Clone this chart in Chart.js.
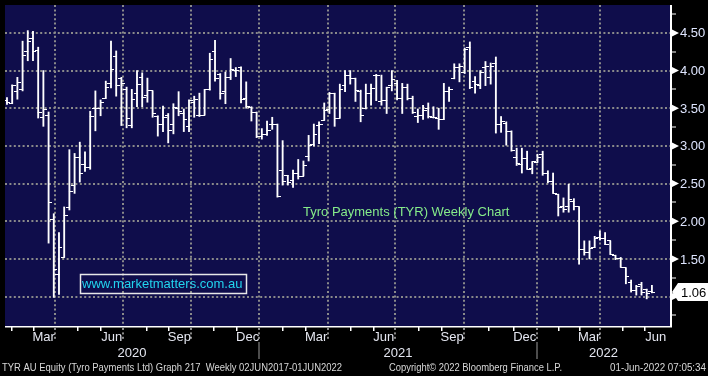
<!DOCTYPE html>
<html>
<head>
<meta charset="utf-8">
<script src="https://cdn.jsdelivr.net/npm/chart.js@4.4.0/dist/chart.umd.min.js"></script>
<style>
  html, body { margin: 0; padding: 0; background: #000; }
</style>
</head>
<body>
<canvas id="tyr" width="708" height="376"></canvas>
<script>
// weekly OHLC, Tyro Payments (TYR), late Dec 2019 -> end May 2022
const opens = [3.60, 3.56, 3.72, 3.75, 4.25, 4.43, 4.27, 3.38, 3.41, 2.03,
  1.29, 1.52, 2.18, 2.47, 2.85, 2.75, 2.71, 3.49, 3.49, 3.63,
  3.83, 4.18, 3.89, 3.75, 3.27, 3.70, 3.91, 3.67, 3.73, 3.39,
  3.28, 3.41, 3.29, 3.50, 3.43, 3.26, 3.58, 3.40, 3.41, 3.75,
  4.25, 3.95, 3.72, 3.91, 4.00, 4.04, 3.63, 3.51, 3.45, 3.12,
  3.15, 3.28, 3.29, 2.68, 2.61, 2.54, 2.64, 2.60, 2.86, 3.02,
  3.27, 3.34, 3.48, 3.69, 3.37, 3.80, 3.94, 3.90, 3.72, 3.50,
  3.69, 3.94, 3.59, 3.60, 3.80, 3.83, 3.63, 3.77, 3.63, 3.39,
  3.40, 3.50, 3.38, 3.37, 3.35, 3.72, 3.89, 4.04, 3.98, 4.31,
  3.85, 3.80, 4.04, 3.91, 4.10, 3.28, 3.30, 3.19, 2.85, 2.75,
  2.83, 2.70, 2.78, 2.89, 2.63, 2.53, 2.35, 2.20, 2.19, 2.26,
  2.19, 1.63, 1.59, 1.65, 1.79, 1.77, 1.74, 1.55, 1.50, 1.38,
  1.19, 1.08, 1.16, 1.09, 1.07];
const highs = [3.64, 3.81, 3.91, 4.39, 4.53, 4.52, 4.31, 4.00, 3.45, 2.10,
  1.85, 2.19, 2.95, 2.90, 3.05, 2.92, 3.46, 3.73, 3.61, 3.86,
  4.39, 4.26, 3.91, 3.78, 3.75, 4.00, 3.97, 3.90, 3.73, 3.40,
  3.53, 3.43, 3.56, 3.72, 3.49, 3.61, 3.66, 3.70, 3.75, 4.23,
  4.40, 3.96, 3.98, 4.16, 4.04, 4.05, 3.85, 3.52, 3.45, 3.23,
  3.33, 3.38, 3.29, 3.07, 2.61, 2.68, 2.82, 2.80, 3.14, 3.29,
  3.32, 3.57, 3.71, 3.70, 3.82, 4.00, 4.00, 3.90, 3.74, 3.82,
  3.82, 3.95, 3.94, 3.78, 4.00, 3.87, 3.83, 3.82, 3.66, 3.49,
  3.54, 3.57, 3.52, 3.50, 3.83, 3.78, 4.09, 4.09, 4.30, 4.38,
  3.92, 4.00, 4.12, 4.10, 4.18, 3.39, 3.32, 3.20, 2.97, 2.97,
  2.93, 2.79, 2.89, 2.93, 2.67, 2.64, 2.36, 2.31, 2.49, 2.30,
  2.19, 1.74, 1.74, 1.80, 1.87, 1.85, 1.74, 1.55, 1.52, 1.38,
  1.22, 1.15, 1.19, 1.10, 1.15];
const lows = [3.55, 3.56, 3.62, 3.73, 4.13, 4.13, 3.37, 3.26, 1.71, 0.99,
  1.03, 1.52, 2.15, 2.37, 2.52, 2.66, 2.69, 3.20, 3.40, 3.63,
  3.77, 3.66, 3.27, 3.24, 3.24, 3.52, 3.52, 3.58, 3.38, 3.13,
  3.19, 3.04, 3.16, 3.40, 3.19, 3.19, 3.38, 3.39, 3.41, 3.74,
  3.86, 3.62, 3.56, 3.88, 3.92, 3.57, 3.50, 3.33, 3.11, 3.09,
  3.14, 3.22, 2.32, 2.48, 2.48, 2.45, 2.56, 2.60, 2.80, 3.00,
  3.03, 3.34, 3.43, 3.26, 3.37, 3.72, 3.82, 3.59, 3.32, 3.49,
  3.54, 3.60, 3.54, 3.43, 3.73, 3.61, 3.43, 3.61, 3.43, 3.31,
  3.35, 3.37, 3.37, 3.22, 3.35, 3.59, 3.89, 3.85, 3.96, 3.76,
  3.70, 3.76, 3.80, 3.82, 3.17, 3.18, 3.01, 2.93, 2.74, 2.64,
  2.69, 2.63, 2.78, 2.61, 2.51, 2.37, 2.07, 2.12, 2.12, 2.15,
  1.43, 1.55, 1.50, 1.65, 1.75, 1.69, 1.56, 1.49, 1.39, 1.17,
  1.06, 1.02, 1.02, 0.97, 1.05];
const closes = [3.58, 3.80, 3.84, 4.20, 4.38, 4.25, 3.45, 3.48, 2.25, 1.36,
  1.65, 2.08, 2.40, 2.85, 2.64, 2.71, 3.39, 3.49, 3.57, 3.78,
  4.01, 3.80, 3.83, 3.36, 3.62, 3.81, 3.64, 3.73, 3.43, 3.29,
  3.38, 3.20, 3.51, 3.46, 3.35, 3.60, 3.62, 3.40, 3.75, 4.15,
  3.90, 3.70, 3.91, 4.01, 4.00, 3.61, 3.52, 3.45, 3.12, 3.15,
  3.20, 3.28, 2.33, 2.53, 2.52, 2.64, 2.60, 2.74, 3.00, 3.15,
  3.29, 3.47, 3.69, 3.37, 3.75, 3.94, 3.90, 3.73, 3.41, 3.70,
  3.76, 3.94, 3.60, 3.78, 3.88, 3.63, 3.77, 3.63, 3.44, 3.40,
  3.47, 3.39, 3.38, 3.35, 3.72, 3.75, 4.04, 4.06, 4.28, 3.78,
  3.82, 3.98, 4.06, 4.06, 3.29, 3.33, 3.19, 2.94, 2.76, 2.83,
  2.69, 2.79, 2.84, 2.63, 2.53, 2.37, 2.18, 2.15, 2.29, 2.19,
  1.63, 1.59, 1.64, 1.77, 1.77, 1.69, 1.56, 1.50, 1.39, 1.27,
  1.08, 1.14, 1.05, 1.04, 1.06];

// axis ticks
const priceTicks = [1.00, 1.50, 2.00, 2.50, 3.00, 3.50, 4.00, 4.50];
// quarter boundaries in week index (first one sits off the left edge)
const quarterBreaks = [-3.5, 9.16, 22.33, 35.31, 48.47, 61.64, 74.62, 87.79, 101.91, 113.93, 126.9];
const quarterLabels = ['Mar', 'Jun', 'Sep', 'Dec', 'Mar', 'Jun', 'Sep', 'Dec', 'Mar', 'Jun'];
const yearBreaks = [48.47, 101.91];
const yearLabels = ['2020', '2021', '2022'];

const xMin = -0.38, xMax = 127.48;
const yMin = 0.61, yMax = 4.87;

const weeks = opens.map((_, i) => i);
const rangeData = weeks.map(i => ({ x: i, y: [lows[i], highs[i]] }));
const openData = weeks.map(i => ({ x: i, y: opens[i] }));
const closeData = weeks.map(i => ({ x: i, y: closes[i] }));

function tickImage(left) {
  const c = document.createElement('canvas');
  c.width = 7; c.height = 1;
  const g = c.getContext('2d');
  g.fillStyle = '#fff';
  if (left) g.fillRect(0, 0, 4, 1); else g.fillRect(3, 0, 4, 1);
  return c;
}

const FONT = '"Liberation Sans", Arial, sans-serif';

const decor = {
  id: 'decor',
  beforeDraw(chart) {
    const { ctx, chartArea: a } = chart;
    ctx.save();
    ctx.fillStyle = '#000';
    ctx.fillRect(0, 0, chart.width, chart.height);
    ctx.fillStyle = '#0f0d4b';
    ctx.fillRect(a.left, a.top, a.right - a.left, a.bottom - a.top);
    ctx.restore();
  },
  afterDraw(chart) {
    const { ctx, chartArea: a } = chart;
    const xs = chart.scales.x, ys = chart.scales.y;
    ctx.save();

    // watermark + title
    ctx.strokeStyle = '#e8e8e8';
    ctx.lineWidth = 1.5;
    ctx.strokeRect(80.5, 274.5, 166, 19);
    ctx.font = '13px ' + FONT;
    ctx.textBaseline = 'middle';
    ctx.fillStyle = '#22d4ee';
    ctx.fillText('www.marketmatters.com.au', 82, 284.5, 162);
    ctx.fillStyle = '#86ec8a';
    ctx.fillText('Tyro Payments (TYR) Weekly Chart', 303, 212, 210);

    // axis lines
    ctx.fillStyle = '#fff';
    ctx.fillRect(a.right, a.top, 2, a.bottom - a.top + 1);
    ctx.fillRect(a.left, a.bottom, a.right - a.left + 2, 1.5);

    // right axis: minor ticks, arrows and labels
    for (let v = 0.75; v < yMax; v += 0.5) {
      const y = ys.getPixelForValue(v);
      ctx.fillRect(a.right + 2, Math.round(y) - 0.5, 4, 1);
    }
    ctx.font = '13px ' + FONT;
    priceTicks.forEach(v => {
      const y = ys.getPixelForValue(v);
      ctx.fillStyle = '#fff';
      ctx.beginPath();
      ctx.moveTo(a.right + 2, y - 3.5);
      ctx.lineTo(a.right + 9, y);
      ctx.lineTo(a.right + 2, y + 3.5);
      ctx.closePath();
      ctx.fill();
      ctx.fillStyle = '#dfe6ff';
      ctx.fillText(v.toFixed(2), a.right + 10, y + 1);
    });

    // last price flag
    const last = closes[closes.length - 1];
    const ly = ys.getPixelForValue(last);
    ctx.fillStyle = '#fff';
    ctx.beginPath();
    ctx.moveTo(a.right + 2, ly);
    ctx.lineTo(a.right + 8, ly - 9);
    ctx.lineTo(chart.width, ly - 9);
    ctx.lineTo(chart.width, ly + 9);
    ctx.lineTo(a.right + 8, ly + 9);
    ctx.closePath();
    ctx.fill();
    ctx.fillStyle = '#000';
    ctx.fillText(last.toFixed(2), a.right + 11, ly + 1);

    // bottom axis: month ticks, quarter marks, labels
    const bottom = a.bottom;
    ctx.textAlign = 'center';
    for (let k = 1; k < quarterBreaks.length; k++) {
      const q0 = quarterBreaks[k - 1], q1 = quarterBreaks[k];
      const step = (q1 - q0) / 3;
      ctx.fillStyle = '#fff';
      [q0 + step, q0 + 2 * step].forEach(m => {
        if (m > xMin && m < xMax) {
          const x = Math.round(xs.getPixelForValue(m));
          ctx.fillRect(x, bottom + 1, 1.5, 4);
        }
      });
      if (q1 < xMax - 1) {
        const x = Math.round(xs.getPixelForValue(q1));
        ctx.fillStyle = '#8a8a8a';
        for (let y = bottom + 2; y < bottom + 15; y += 4.4) ctx.fillRect(x - 1, y, 2, 2);
      }
      const lx = xs.getPixelForValue(q1 - step / 2);
      ctx.fillStyle = '#e4e6f0';
      ctx.fillText(quarterLabels[k - 1], lx, bottom + 11);
    }

    // years
    const edges = [xMin].concat(yearBreaks, [xMax]);
    yearLabels.forEach((t, i) => {
      const x0 = xs.getPixelForValue(edges[i]);
      const x1 = xs.getPixelForValue(edges[i + 1]);
      ctx.fillStyle = '#e4e6f0';
      ctx.fillText(t, (x0 + x1) / 2, bottom + 27);
    });
    ctx.fillStyle = '#9a9a9a';
    yearBreaks.forEach(b => {
      const x = Math.round(xs.getPixelForValue(b));
      ctx.fillRect(x - 0.5, bottom + 16, 1, 17);
    });

    // footer
    ctx.font = '11px ' + FONT;
    ctx.fillStyle = '#d8d8d8';
    ctx.textAlign = 'left';
    ctx.fillText('TYR AU Equity (Tyro Payments Ltd) Graph 217  Weekly 02JUN2017-01JUN2022', 2, 368, 340);
    ctx.fillText('Copyright\u00a9 2022 Bloomberg Finance L.P.', 389, 368, 173);
    ctx.textAlign = 'right';
    ctx.fillText('01-Jun-2022 07:05:34', 706, 368, 96);

    ctx.restore();
  }
};

new Chart(document.getElementById('tyr'), {
  type: 'bar',
  data: {
    datasets: [
      { data: rangeData, backgroundColor: '#fff', borderWidth: 0, barThickness: 1.2, grouped: false, order: 2 },
      { type: 'scatter', data: openData, pointStyle: tickImage(true), order: 1 },
      { type: 'scatter', data: closeData, pointStyle: tickImage(false), order: 1 }
    ]
  },
  options: {
    responsive: false,
    animation: false,
    devicePixelRatio: 1,
    events: [],
    layout: { padding: 0 },
    plugins: { legend: { display: false }, tooltip: { enabled: false } },
    scales: {
      x: {
        type: 'linear', min: xMin, max: xMax, offset: false,
        grid: { offset: false, color: '#8a8a8a', lineWidth: 2, drawTicks: false },
        border: { display: false, dash: [2, 2.4] },
        ticks: { display: false },
        afterBuildTicks: s => { s.ticks = quarterBreaks.filter(v => v > xMin && v < xMax - 1).map(v => ({ value: v })); },
        afterFit: s => { s.height = 50; }
      },
      y: {
        position: 'right', min: yMin, max: yMax,
        grid: { color: '#8a8a8a', lineWidth: 2, drawTicks: false },
        border: { display: false, dash: [2, 2.4] },
        ticks: { display: false },
        afterBuildTicks: s => { s.ticks = priceTicks.map(v => ({ value: v })); },
        afterFit: s => { s.width = 38; }
      }
    }
  },
  plugins: [decor]
});
</script>
</body>
</html>
